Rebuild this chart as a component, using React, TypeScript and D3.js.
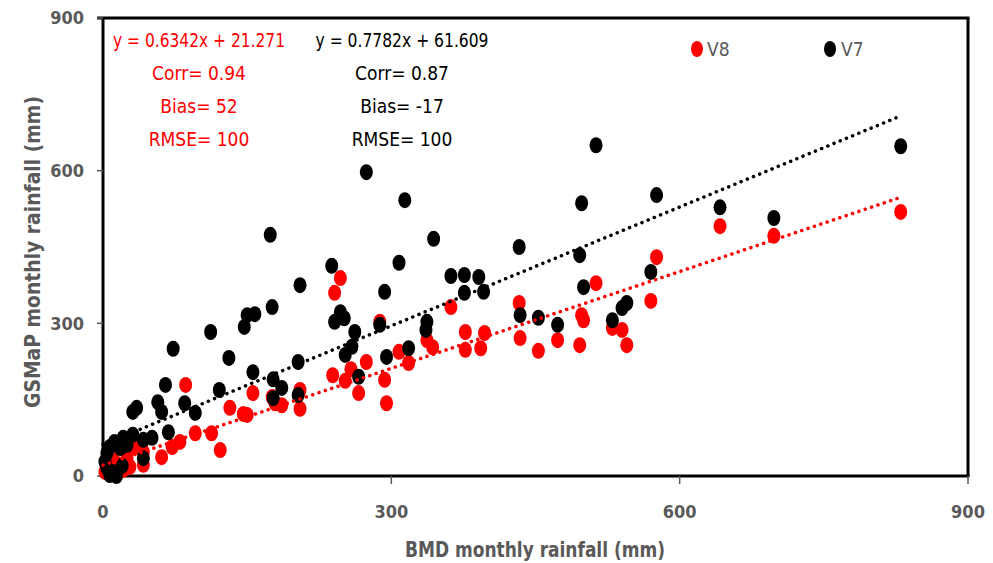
import React from 'react';
import * as d3 from 'd3';

// BMD (x) vs GSMaP (y) monthly rainfall, mm
const v8X = [830, 642, 698, 576, 570, 540, 545, 513, 433, 498, 500, 377, 397, 377, 393, 434, 453, 473, 496, 530,
  247, 241, 362, 288, 337, 343, 308, 318, 274, 258, 239, 252, 266, 293, 295, 186, 205, 205, 156, 176,
  179, 132, 150, 146, 113, 86, 96, 122, 80, 72, 61, 42, 31, 25, 28, 21, 16, 33, 42, 2, 7, 11];
const v8Y = [519, 491, 472, 430, 344, 287, 257, 379, 340, 316, 306, 283, 281, 248, 251, 271, 246, 267, 257, 291,
  389, 360, 332, 303, 267, 253, 244, 222, 224, 210, 198, 187, 163, 189, 143, 139, 169, 132, 163, 155,
  143, 134, 120, 122, 84, 179, 84, 51, 67, 57, 37, 22, 75, 35, 18, 12, 22, 57, 47, 8, 16, 31];

const v7X = [830, 513, 274, 314, 344, 174, 205, 150, 158, 176, 147, 112, 73, 131, 156, 177, 186, 177, 203, 203,
  121, 65, 85, 57, 61, 96, 35, 31, 308, 238, 293, 362, 376, 391, 376, 247, 241, 251, 262, 288,
  337, 336, 259, 252, 295, 318, 266, 576, 498, 433, 496, 570, 396, 500, 434, 453, 473, 530, 540, 545,
  642, 698, 68, 51, 42, 42, 31, 21, 12, 7, 4, 2, 4, 7, 14, 18, 25, 10, 20];
const v7Y = [648, 650, 597, 542, 466, 474, 375, 316, 318, 332, 293, 283, 250, 232, 204, 190, 173, 153, 224, 159,
  169, 179, 143, 145, 126, 124, 134, 126, 419, 413, 362, 393, 395, 391, 360, 322, 303, 310, 283, 297,
  303, 287, 254, 238, 234, 251, 195, 552, 536, 450, 434, 401, 362, 371, 316, 311, 297, 306, 330, 340,
  528, 507, 86, 75, 71, 35, 81, 75, 67, 57, 45, 28, 16, 2, 0, 55, 61, 8, 20];

const ticks = [0, 300, 600, 900];

// fitted lines: slope, intercept
const fitV8 = { slope: 0.6342, intercept: 21.271 };
const fitV7 = { slope: 0.7782, intercept: 61.609 };

const statsV8 = ['y = 0.6342x + 21.271', 'Corr= 0.94', 'Bias= 52', 'RMSE= 100'];
const statsV7 = ['y = 0.7782x + 61.609', 'Corr= 0.87', 'Bias= -17', 'RMSE= 100'];

const FONT = "'Liberation Sans Narrow', 'DejaVu Sans Condensed', 'Open Sans', sans-serif";
const GRAY = '#595959';

export default function App() {
  const W = 993, H = 563;
  const left = 103, right = 968, top = 18, bottom = 476;

  const x = d3.scaleLinear().domain([0, 900]).range([left, right]);
  const y = d3.scaleLinear().domain([0, 900]).range([bottom, top]);

  const xMax = d3.max(v7X) as number;
  const fitLine = (f: { slope: number; intercept: number }) =>
    d3.line<number>()
      .x(d => x(d))
      .y(d => y(f.slope * d + f.intercept))([0, xMax]) || '';

  const rx = 6.5, ry = 8;

  return (
    <svg width={W} height={H} style={{ position: 'absolute', left: 0, top: 0, background: '#fff' }}
      fontFamily={FONT}>
      <rect width={W} height={H} fill="#fff" />

      {/* frame */}
      <line x1={left - 6} x2={right + 1.5} y1={top} y2={top} stroke="#000" strokeWidth={3} />
      <line x1={right} x2={right} y1={top} y2={bottom} stroke="#000" strokeWidth={3} />
      <line x1={left} x2={left} y1={top} y2={bottom + 1.5} stroke="#000" strokeWidth={3} />
      <line x1={left - 1.5} x2={right + 1.5} y1={bottom} y2={bottom} stroke="#000" strokeWidth={3} />

      {/* ticks */}
      {ticks.map(t => (
        <g key={'y' + t}>
          <line x1={left - 6} x2={left} y1={y(t)} y2={y(t)} stroke={GRAY} strokeWidth={1.5} />
          <text x={left - 19} y={y(t)} dy="0.35em" textAnchor="end" fontSize={18} fontWeight="bold" fill={GRAY}>{t}</text>
        </g>
      ))}
      {ticks.map(t => (
        <g key={'x' + t}>
          {t > 0 && <line x1={x(t)} x2={x(t)} y1={bottom} y2={bottom + 8} stroke={GRAY} strokeWidth={1.5} />}
          <text x={x(t)} y={512} dy="0.35em" textAnchor="middle" fontSize={18} fontWeight="bold" fill={GRAY}>{t}</text>
        </g>
      ))}

      {/* axis titles */}
      <text x={535} y={550} dy="0.35em" textAnchor="middle" fontSize={21} fontWeight="bold" fill={GRAY}
        textLength={260} lengthAdjust="spacingAndGlyphs">BMD monthly rainfall (mm)</text>
      <text transform="translate(32,252) rotate(-90)" dy="0.35em" textAnchor="middle" fontSize={22}
        fontWeight="bold" fill={GRAY} textLength={312} lengthAdjust="spacingAndGlyphs">GSMaP monthly rainfall (mm)</text>

      {/* points */}
      {v8X.map((d, i) => (
        <ellipse key={'r' + i} cx={x(d)} cy={y(v8Y[i])} rx={rx} ry={ry} fill="#ff0000" />
      ))}
      {v7X.map((d, i) => (
        <ellipse key={'b' + i} cx={x(d)} cy={y(v7Y[i])} rx={rx} ry={ry} fill="#000" />
      ))}

      {/* trend lines */}
      <path d={fitLine(fitV7)} fill="none" stroke="#000" strokeWidth={3.5} strokeDasharray="0.1 6.6" strokeLinecap="round" />
      <path d={fitLine(fitV8)} fill="none" stroke="#ff0000" strokeWidth={3.5} strokeDasharray="0.1 6.6" strokeLinecap="round" />

      {/* stats */}
      {statsV8.map((s, i) => (
        <text key={'s8' + i} x={199} y={40 + i * 33} dy="0.35em" textAnchor="middle" fontSize={19} fill="#ff0000"
          textLength={i === 0 ? 172 : undefined} lengthAdjust="spacingAndGlyphs">{s}</text>
      ))}
      {statsV7.map((s, i) => (
        <text key={'s7' + i} x={402} y={40 + i * 33} dy="0.35em" textAnchor="middle" fontSize={19} fill="#000"
          textLength={i === 0 ? 173 : undefined} lengthAdjust="spacingAndGlyphs">{s}</text>
      ))}

      {/* legend */}
      <ellipse cx={697} cy={49} rx={6} ry={8} fill="#ff0000" />
      <text x={707} y={49} dy="0.35em" fontSize={19} fill={GRAY}>V8</text>
      <ellipse cx={830} cy={49} rx={6} ry={8} fill="#000" />
      <text x={841} y={49} dy="0.35em" fontSize={19} fill={GRAY}>V7</text>
    </svg>
  );
}
